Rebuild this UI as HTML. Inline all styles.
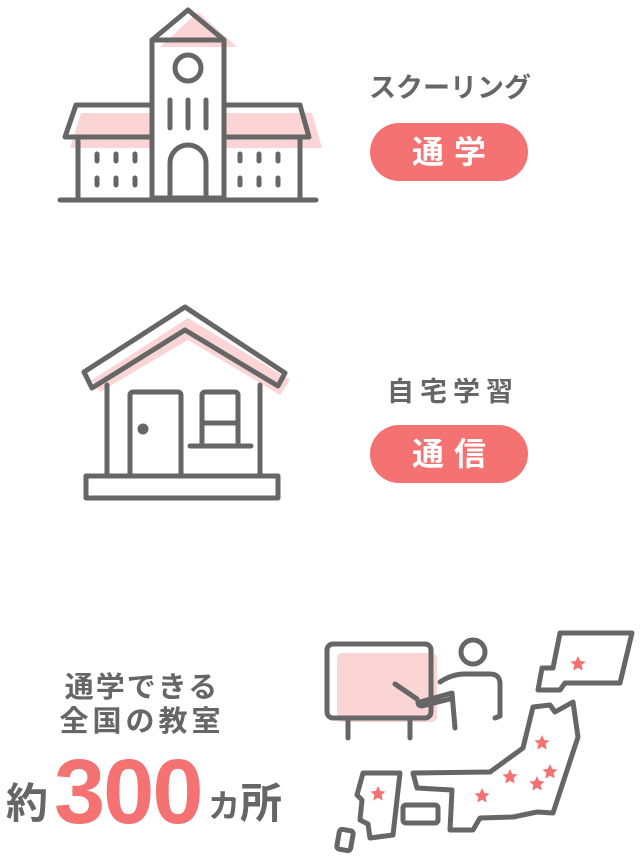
<!DOCTYPE html>
<html><head><meta charset="utf-8"><style>
body{margin:0;width:640px;height:866px;background:#fff;overflow:hidden;position:relative;font-family:"Liberation Sans","Noto Sans CJK JP",sans-serif;}
.t{position:absolute;color:#666;font-weight:bold;text-align:center;white-space:nowrap}
.b{position:absolute;background:#f47272;color:#fff;border-radius:30px;font-weight:bold;text-align:center;font-size:32px;letter-spacing:10px;text-indent:10px}
</style></head><body>
<svg width="640" height="866" style="position:absolute;left:0;top:0" fill="none" stroke="#666" stroke-width="5" stroke-linejoin="round" stroke-linecap="round">
<g stroke="none" fill="#fbd5d5">
<polygon points="198,12 237,47 160,47"/>
<polygon points="81,113 150,113 150,148 70,148"/>
<polygon points="224,113 312,113 322,148 224,148"/>
<polygon points="188,318 290,380 280,395 188,340 100,392 92,380"/>
<rect x="337" y="653" width="100" height="69" rx="5"/>
</g>
<polygon points="152,40 188,10 224,40"/>
<rect x="152" y="40" width="72" height="158"/>
<circle cx="188" cy="68" r="13"/>
<path d="M170,100V128M188,100V128M206,100V128"/>
<path d="M170,198V163a18,18 0 0 1 36,0V198"/>
<polygon points="152,105 76,105 65,137 152,137"/>
<polygon points="224,105 300,105 309,137 224,137"/>
<path d="M78,137V198M300,137V198M60,200H316"/>
<path d="M97,154v7M116,154v7M135,154v7M97,178v7M116,178v7M135,178v7M240,154v7M259,154v7M278,154v7M240,178v7M259,178v7M278,178v7"/>
<polygon points="84,372 185,307 285,373 278,386 185,330 92,388"/>
<path d="M107,385V476M260,385V476"/>
<rect x="86" y="476" width="192" height="22"/>
<path d="M130,476V395a3,3 0 0 1 3,-3H178a3,3 0 0 1 3,3V476"/>
<circle cx="143" cy="429" r="3" fill="#666"/>
<path d="M202,445V395a3,3 0 0 1 3,-3H235a3,3 0 0 1 3,3V445M202,423H238M190,446H251"/>
<rect x="327" y="644" width="104" height="74" rx="6"/>
<path d="M348,718V738M410,718V738"/>
<circle cx="473" cy="652" r="12"/>
<path d="M395,684L417,699"/>
<path d="M420,702L452,693L455,728M440,682Q452,674 465,674L490,674Q500,674 500,684V716L495,718"/>
<path d="M418,702Q418,706 422,706L450,699"/>
<polygon points="560,633 632,633 620,683 565,683 560,690 538,690 542,668 553,668"/>
<polygon points="533,707 550,705 555,712 573,702 578,737 553,813 537,812 513,817 480,818 473,830 450,830 452,790 417,788 413,773 490,772 523,748"/>
<rect x="403" y="805" width="35" height="18" rx="3"/>
<polygon points="363,773 400,773 393,835 370,838 368,824 360,820 362,800 357,795"/>
<rect x="338" y="830" width="14" height="20" rx="3" transform="rotate(10 345 840)"/>
</svg>
<svg width="640" height="866" style="position:absolute;left:0;top:0" fill="#f47272">
<defs><polygon id="s" points="0,-8 2.3,-3 7.6,-2.5 3.6,1 4.7,6.5 0,3.8 -4.7,6.5 -3.6,1 -7.6,-2.5 -2.3,-3"/></defs>
<use href="#s" x="578" y="664"/><use href="#s" x="542" y="743"/><use href="#s" x="510" y="777"/>
<use href="#s" x="550" y="772"/><use href="#s" x="537" y="784"/><use href="#s" x="482" y="796"/><use href="#s" x="378" y="794"/>
</svg>
<div class="t" style="left:340px;top:66px;width:220px;font-size:27px">スクーリング</div>
<div class="b" style="left:370px;top:123px;width:158px;height:58px;line-height:58px">通学</div>
<div class="t" style="left:340px;top:370px;width:220px;font-size:27px;letter-spacing:6px;text-indent:6px">自宅学習</div>
<div class="b" style="left:370px;top:425px;width:158px;height:58px;line-height:58px">通信</div>
<div class="t" style="left:32px;top:664px;width:220px;font-size:29px;letter-spacing:2px">通学できる</div>
<div class="t" style="left:32px;top:698px;width:220px;font-size:29px;letter-spacing:4px">全国の教室</div>
<div class="t" style="left:6px;top:770px;font-size:42px">約</div>
<div class="t" style="left:54px;top:740px;font-size:92px;color:#f47272;letter-spacing:-2px">300</div>
<div class="t" style="left:208px;top:781px;font-size:32px">カ</div>
<div class="t" style="left:240px;top:770px;font-size:42px">所</div>
</body></html>
